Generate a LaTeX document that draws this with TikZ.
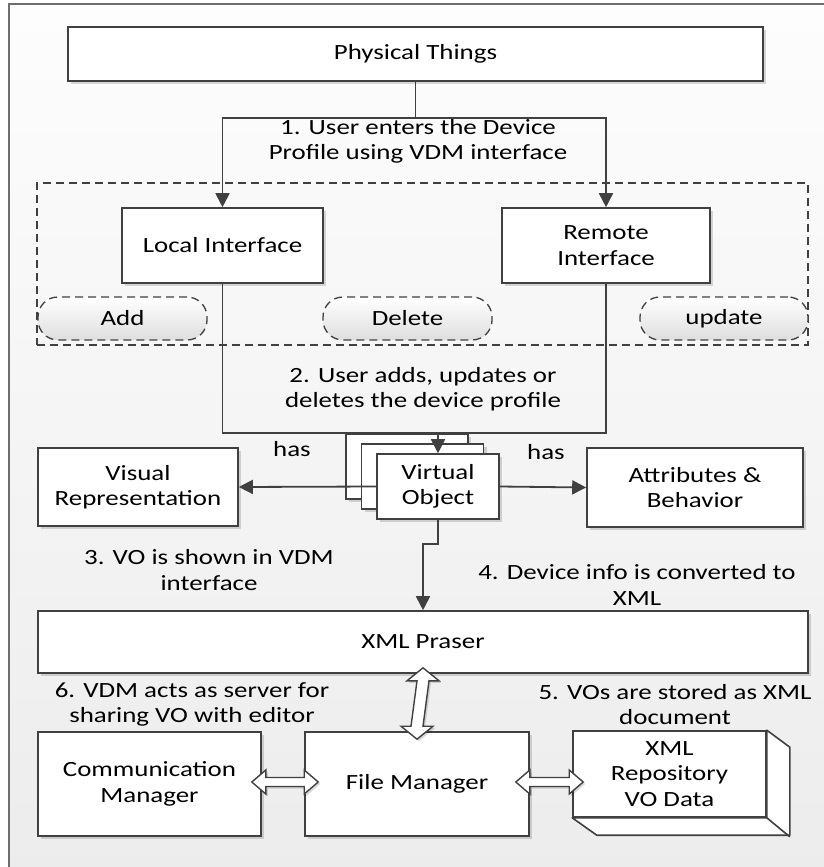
\documentclass[tikz,border=0pt]{standalone}
\usepackage{fontspec}
\setmainfont[FakeStretch=1.24]{Carlito}
\usetikzlibrary{arrows.meta,shadows,calc}
\definecolor{lc}{RGB}{64,64,64}
\definecolor{framec}{RGB}{110,110,110}
\definecolor{bgtop}{RGB}{253,253,253}
\definecolor{bgbot}{RGB}{236,236,236}
\definecolor{ovalbot}{RGB}{222,222,222}
\tikzset{
  box/.style={draw=lc, line width=1.6pt, fill=white,
    drop shadow={shadow xshift=3pt, shadow yshift=-3pt, opacity=0.15, fill=black},
    align=center, inner sep=0pt},
  grp/.style={draw=lc, line width=1.4pt, dash pattern=on 8pt off 5pt, inner sep=0pt},
  oval/.style={draw=lc, line width=1.3pt, dash pattern=on 8pt off 5pt, rounded corners=20pt,
    top color=white, bottom color=ovalbot, inner sep=0pt},
  lbl/.style={align=center, inner sep=0pt, text=black},
  conn/.style={draw=lc, line width=1.8pt},
  arr/.style={conn, -{Triangle[length=14pt,width=14pt]}},
  dbl/.style={draw=lc, line width=1.4pt, fill=white, line join=miter,
    drop shadow={shadow xshift=2pt, shadow yshift=-2pt, opacity=0.15, fill=black}}
}
\newcommand\hdarrowx[2]{%
  \path[dbl] (#1) -- ++(14,-12) -- ++(0,7.5) -- ($(#2)+(-14,-4.5)$) -- ++(0,-7.5) -- (#2)
    -- ++(-14,12) -- ++(0,-7.5) -- ($(#1)+(14,4.5)$) -- ++(0,7.5) -- cycle;}
\newcommand\vdarrowx[2]{%
  \path[dbl] (#1) -- ++(16,13) -- ++(-10,0) -- ($(#2)+(6,-13)$) -- ++(10,0) -- (#2)
    -- ++(-16,-13) -- ++(10,0) -- ($(#1)+(-6,13)$) -- ++(-10,0) -- cycle;}
\begin{document}
\begin{tikzpicture}[x=1pt, y=-1pt, font=\fontsize{21.7}{25.5}\selectfont]
\useasboundingbox (0,0) rectangle (824,867);
\fill[white] (0,0) rectangle (824,867);
\shade[top color=bgtop, bottom color=bgbot] (9,4) rectangle (840,880);
\draw[framec, line width=1.6pt] (9,4) rectangle (840,880);

% group
\node[grp, minimum width=771pt, minimum height=162pt] (grp) at (422.5,264) {};

% nodes
\node[box, minimum width=695pt, minimum height=54pt] (pt) at (415.5,54) {Physical Things};
\node[box, minimum width=201pt, minimum height=75pt] (li) at (222.5,245.5) {Local Interface};
\node[box, minimum width=208pt, minimum height=75pt] (ri) at (606,245.5) {Remote\\Interface};
\node[oval, minimum width=169pt, minimum height=43pt] (add) at (122.5,318.5) {Add};
\node[oval, minimum width=169pt, minimum height=43pt] (del) at (407.5,318.5) {Delete};
\node[oval, minimum width=168pt, minimum height=43pt] (upd) at (724,318.5) {update};

\node[box, minimum width=122pt, minimum height=65pt] (vob) at (407,466.5) {};
\node[box, minimum width=122pt, minimum height=65pt] (vom) at (422.5,476.5) {};
\node[box, minimum width=122pt, minimum height=65pt] (vof) at (438,486.5) {Virtual\\Object};
\node[box, minimum width=200pt, minimum height=78pt] (vr) at (138,487) {Visual\\Representation};
\node[box, minimum width=216pt, minimum height=79pt] (ab) at (695,487.5) {Attributes \&\\Behavior};
\node[box, minimum width=770pt, minimum height=62pt] (xmlp) at (423,642) {XML Praser};
\node[box, minimum width=223pt, minimum height=104pt] (cm) at (149.5,784) {Communication\\Manager};
\node[box, minimum width=224pt, minimum height=104pt] (fm) at (417,784) {File Manager};
\node[box, minimum width=193pt, minimum height=86pt] (repo) at (669.5,774) {XML\\Repository\\VO Data};
\draw[draw=lc, line width=1.6pt, fill=white, line join=round]
  (repo.north east) -- ++(23,17) -- ++(0,88) -- ++(-193,0) -- (repo.south west)
  -- (repo.south east) -- cycle;
\draw[draw=lc, line width=1.6pt] (repo.south east) -- ++(23,19);

% labels
\node[lbl] (l1) at (418,141.5) {1. User enters the Device\\Profile using VDM interface};
\node[lbl] (l2) at (423,389) {2. User adds, updates or\\deletes the device profile};
\node[lbl] (has1) at (292,449) {has};
\node[lbl] (has2) at (546,452) {has};
\node[lbl] (l3) at (209,570) {3. VO is shown in VDM\\interface};
\node[lbl] (l4) at (637,585) {4. Device info is converted to\\XML};
\node[lbl] (l6) at (192,704.5) {6. VDM acts as server for\\sharing VO with editor};
\node[lbl] (l5) at (675,704.5) {5. VOs are stored as XML\\document};

% connectors
\coordinate (split) at ($(pt.south)+(0,36)$);
\draw[conn] (pt.south) -- (split);
\draw[arr] (split) -| (li.north);
\draw[arr] (split) -| (ri.north);
\draw[conn] (li.south) -- ++(0,149) -| (ri.south);
\coordinate (join) at (vof.north |- 0,432);
\draw[arr] (join) -- (vof.north);
\draw[arr] (vof.west) -- (vr.east);
\draw[arr] (vof.east) -- (ab.west);
\draw[arr] (vof.south) -- ++(0,24) -| (xmlp.north);

% double arrows
\coordinate (v1) at ($(xmlp.south)+(0,-6)$);
\coordinate (v2) at ($(fm.north)+(0,8)$);
\vdarrowx{v1}{v2}
\coordinate (h1) at ($(cm.east)+(-10,-2)$);
\coordinate (h2) at ($(fm.west)+(14,-2)$);
\hdarrowx{h1}{h2}
\coordinate (h3) at ($(fm.east)+(-14,-2)$);
\coordinate (h4) at ($(repo.west)+(11,8)$);
\hdarrowx{h3}{h4}
\end{tikzpicture}
\end{document}
